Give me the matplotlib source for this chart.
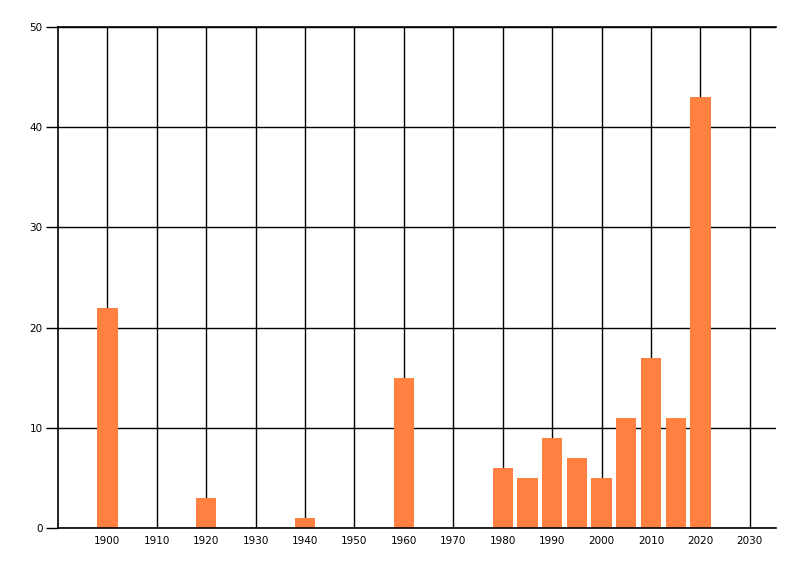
import matplotlib
matplotlib.use("Agg")
import matplotlib.pyplot as plt

years = [1900, 1920, 1940, 1960, 1980, 1985, 1990, 1995, 2000, 2005, 2010, 2015, 2020]
counts = [22, 3, 1, 15, 6, 5, 9, 7, 5, 11, 17, 11, 43]
xticks = list(range(1900, 2031, 10))
yticks = [0, 10, 20, 30, 40, 50]

fig = plt.figure(figsize=(8, 5.76), dpi=100)
ax = fig.add_axes([58/800, 48/576, (776-58)/800, (528-27)/576])
ax.set_axisbelow(True)
ax.bar(years, counts, width=4.1, color="#FF8040", zorder=2)
ax.set_xlim(1890, 2035.3)
ax.set_ylim(0, 50)
ax.set_xticks(xticks)
ax.set_yticks(yticks)
ax.grid(True, color="black", linewidth=1, zorder=1)
for s in ["right"]:
    ax.spines[s].set_visible(False)
for s in ["left", "bottom", "top"]:
    ax.spines[s].set_linewidth(1.2)
ax.tick_params(axis="x", length=0, pad=6, labelsize=7.5)
ax.tick_params(axis="y", length=9, width=1, pad=2, labelsize=7.5)
fig.savefig("out.png", dpi=100)
